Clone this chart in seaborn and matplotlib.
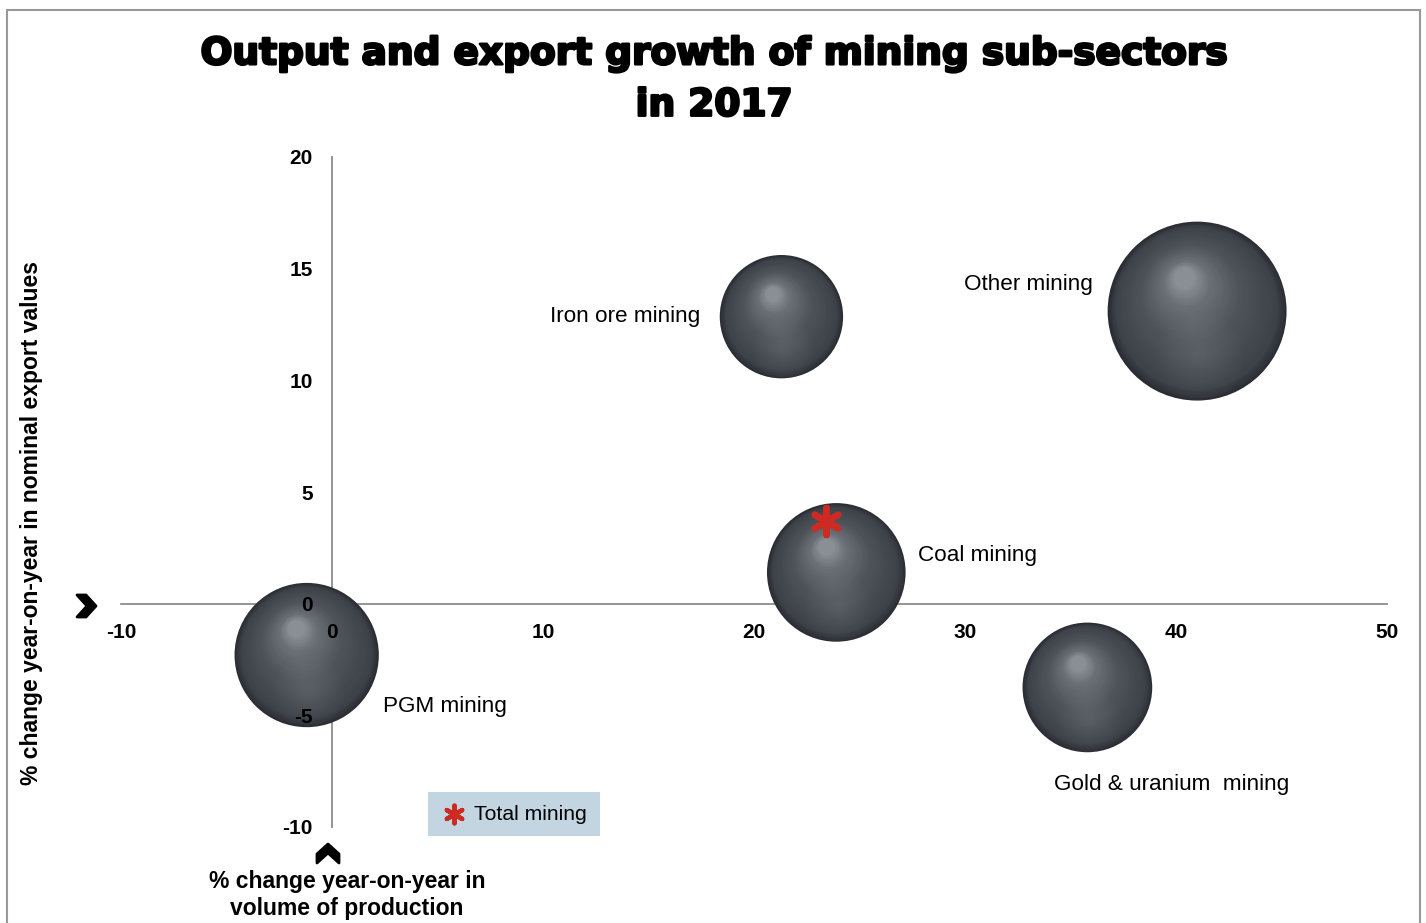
import numpy as np
import pandas as pd
import matplotlib
matplotlib.use("Agg")
import matplotlib.pyplot as plt
import seaborn as sns
from matplotlib.transforms import ScaledTranslation
from matplotlib.colors import to_rgb
from matplotlib.path import Path
from matplotlib.patches import PathPatch, Rectangle
import matplotlib.patheffects as pe

# ---------------- data ----------------
sectors = ["PGM mining", "Iron ore mining", "Other mining", "Coal mining", "Gold & uranium  mining"]
production_change = [-1.2, 21.3, 41.0, 23.9, 35.8]
export_change = [-2.3, 12.85, 13.1, 1.4, -3.75]
bubble_size = [26, 19, 40, 24, 21]

total_label = "Total mining"
total_production = [23.4]
total_export = [3.7]

x_ticks = [-10, 0, 10, 20, 30, 40, 50]
y_ticks = [-10, -5, 0, 5, 10, 15, 20]

title = "Output and export growth of mining sub-sectors\nin 2017"
x_title = "% change year-on-year in\nvolume of production"
y_title = "% change year-on-year in nominal export values"

df = pd.DataFrame({"sector": sectors, "production": production_change,
                   "export": export_change, "size": bubble_size})
tot = pd.DataFrame({"production": total_production, "export": total_export, "lbl": [total_label]})

# ---------------- style ----------------
sns.set_style("white")
plt.rcParams["font.family"] = ["Liberation Sans", "DejaVu Sans"]
plt.rcParams["text.color"] = "black"
plt.rcParams["xtick.color"] = "black"
plt.rcParams["ytick.color"] = "black"

W, H = 1426, 923
fig = plt.figure(figsize=(W / 100, H / 100), dpi=100)
ax = fig.add_axes([121 / W, 1 - 827 / H, (1387 - 121) / W, (827 - 157) / H])

SMAX = 16600.0
size_max = max(bubble_size)
sns.scatterplot(data=df, x="production", y="export", size="size",
                sizes=(0, SMAX), size_norm=(0, size_max),
                color="#2a2d33", linewidth=0, legend=False, ax=ax, zorder=3)

# sphere-like shading layers
stops_t = [0.0, 0.1, 0.5, 0.82, 1.0]
stops_c = [to_rgb(c) for c in ["#2a2d33", "#3d4148", "#4f545b", "#6b7077", "#8e939a"]]
N = 50
for xv, yv, sv in zip(production_change, export_change, bubble_size):
    d = np.sqrt(SMAX * sv / size_max)
    r = d / 2
    for k in range(1, N):
        t = k / N
        f = 1 - 0.9 * t
        col = [np.interp(t, stops_t, [c[i] for c in stops_c]) for i in range(3)]
        dx, dy = -0.15 * r * t, 0.38 * r * t
        tr = ax.transData + ScaledTranslation(dx / 72, dy / 72, fig.dpi_scale_trans)
        ax.scatter([xv], [yv], s=(d * f) ** 2, color=col, linewidths=0,
                   transform=tr, zorder=3)
    # soft lower reflection
    tr = ax.transData + ScaledTranslation(0.02 * r / 72, -0.5 * r / 72, fig.dpi_scale_trans)
    for fr in np.linspace(0.5, 0.08, 14):
        ax.scatter([xv], [yv], s=(d * fr) ** 2, color="#9aa0a6", alpha=0.018, linewidths=0,
                   transform=tr, zorder=3)

# total mining marker
sns.scatterplot(data=tot, x="production", y="export", marker=(6, 2, 0), s=380,
                color="#cc2a23", linewidth=4.6, ax=ax, zorder=5, label=total_label)

# data labels
offsets = [(76, -51, "left"), (-81, 0, "right"), (-104, 27, "right"),
           (82, 17, "left"), (-33, -97, "left")]
for (name, xv, yv), (ox, oy, ha) in zip(zip(sectors, production_change, export_change), offsets):
    ax.annotate(name, (xv, yv), xytext=(ox, oy), textcoords="offset pixels",
                ha=ha, va="center", fontsize=16.2, color="black", zorder=6)

# axes
ax.set_xlim(-10, 50)
ax.set_ylim(-10, 20)
ax.set_xticks(x_ticks)
ax.set_yticks(y_ticks)
ax.set_xticklabels([str(v) for v in x_ticks])
ax.set_yticklabels([str(v) for v in y_ticks])
ax.spines["left"].set_position(("data", 0))
ax.spines["bottom"].set_position(("data", 0))
ax.spines["top"].set_visible(False)
ax.spines["right"].set_visible(False)
for s in ("left", "bottom"):
    ax.spines[s].set_color("#8c8c8c")
    ax.spines[s].set_linewidth(1.3)
    ax.spines[s].set_zorder(2)
ax.tick_params(axis="both", direction="out", length=5, width=1.3, color="#8c8c8c",
               labelcolor="black", labelsize=15, pad=9)
for lab in ax.get_xticklabels() + ax.get_yticklabels():
    lab.set_fontweight("bold")
ax.xaxis.set_zorder(4)
ax.yaxis.set_zorder(4)
for tk in ax.yaxis.get_major_ticks():
    if tk.get_loc() in (0, -5):
        tk.tick1line.set_visible(False)
for tk in ax.xaxis.get_major_ticks():
    if tk.get_loc() == 0:
        tk.tick1line.set_visible(False)
ax.set_xlabel("")
ax.set_ylabel("")
ax.patch.set_alpha(0)

# legend
leg = ax.legend(loc="upper left", bbox_to_anchor=(428 / W, 1 - 792 / H),
                bbox_transform=fig.transFigure, frameon=True, fancybox=False,
                facecolor="#c3d5e0", edgecolor="none", framealpha=1,
                fontsize=15.2, borderaxespad=0, borderpad=0.6, handletextpad=0.3,
                handlelength=1.3, markerscale=0.65)
for txt in leg.get_texts():
    txt.set_color("black")
for h in leg.legend_handles:
    try:
        h.set_linewidth(3.2)
    except Exception:
        pass
leg.set_zorder(6)

# titles
fig.text(714 / W, 1 - 80 / H, title, ha="center", va="center", fontsize=27,
         fontweight="bold", family=["DejaVu Sans"], linespacing=1.55, color="black",
         path_effects=[pe.withStroke(linewidth=1.8, foreground="black")])
fig.text(32 / W, 1 - 523 / H, y_title, rotation=90, ha="center", va="center",
         fontsize=16.5, fontweight="bold", color="black")
fig.text(347 / W, 1 - 895 / H, x_title, ha="center", va="center",
         fontsize=16.5, fontweight="bold", linespacing=1.2, color="black")

# chevrons
def chevron(cx, cy, direction):
    pts = np.array([(-10, -11), (-1, -11), (9, 0), (-1, 11), (-10, 11), (0, 0), (-10, -11)], float)
    if direction == "up":
        pts = pts[:, ::-1].copy()
    pts[:, 0] += cx
    pts[:, 1] = (H - cy) + pts[:, 1]
    pts[:, 0] /= W
    pts[:, 1] /= H
    codes = [Path.MOVETO] + [Path.LINETO] * 5 + [Path.CLOSEPOLY]
    fig.add_artist(PathPatch(Path(pts, codes), facecolor="black", edgecolor="black",
                             lw=2, transform=fig.transFigure, joinstyle="round"))

chevron(87, 606, "right")
chevron(328, 853, "up")

# border
fig.add_artist(Rectangle((7 / W, -0.02), (1420 - 7) / W, (H - 10) / H + 0.02,
                         transform=fig.transFigure, fill=False, edgecolor="#999999", lw=1.5))

fig.savefig("out.png", dpi=100)
